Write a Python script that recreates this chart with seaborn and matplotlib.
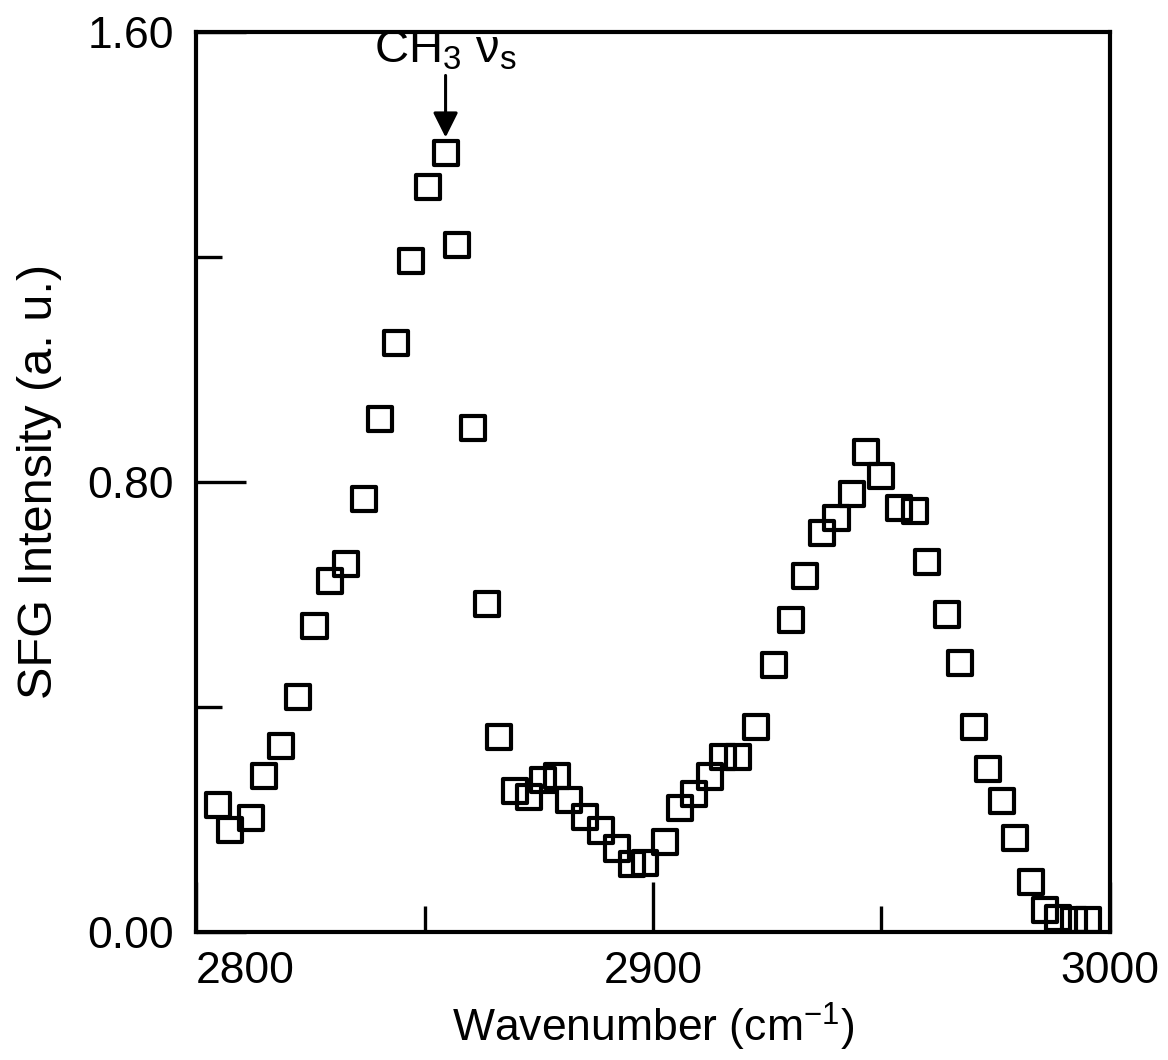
import numpy as np
import pandas as pd
import seaborn as sns
import matplotlib.pyplot as plt
from matplotlib.ticker import FixedLocator

# data
wavenumber = [2804.8, 2807.4, 2812.0, 2814.8, 2818.5, 2822.2, 2825.9, 2829.3, 2832.8, 2836.7,
              2840.2, 2843.7, 2847.0, 2850.7, 2854.6, 2857.0, 2860.7, 2863.7, 2866.3, 2869.8,
              2872.8, 2875.9, 2878.9, 2881.7, 2885.2, 2888.7, 2892.2, 2895.4, 2898.3, 2902.6,
              2905.9, 2909.1, 2912.4, 2915.4, 2918.7, 2922.6, 2926.5, 2930.2, 2933.3, 2937.0,
              2940.2, 2943.5, 2946.7, 2950.0, 2953.9, 2957.4, 2960.0, 2964.3, 2967.2, 2970.4,
              2973.3, 2976.5, 2979.3, 2982.8, 2985.9, 2988.7, 2992.2, 2995.2]
intensity = [0.226, 0.181, 0.203, 0.277, 0.331, 0.418, 0.544, 0.624, 0.654, 0.770,
             0.912, 1.047, 1.193, 1.324, 1.385, 1.221, 0.896, 0.583, 0.347, 0.251,
             0.240, 0.270, 0.277, 0.235, 0.204, 0.180, 0.148, 0.121, 0.123, 0.160,
             0.220, 0.245, 0.276, 0.311, 0.311, 0.364, 0.475, 0.555, 0.633, 0.709,
             0.736, 0.779, 0.853, 0.811, 0.754, 0.748, 0.658, 0.564, 0.478, 0.364,
             0.290, 0.233, 0.167, 0.089, 0.039, 0.025, 0.021, 0.021]

x_ticks = [2800, 2900, 3000]
x_minor = [2850, 2950]
y_ticks = [0.0, 0.8, 1.6]
y_minor = [0.4, 1.2]

df = pd.DataFrame({'w': wavenumber, 'I': intensity})

sns.set_style('ticks')
plt.rcParams['font.family'] = ['Liberation Sans', 'DejaVu Sans']
plt.rcParams['mathtext.fontset'] = 'custom'
plt.rcParams['mathtext.rm'] = 'Liberation Sans'
plt.rcParams['mathtext.it'] = 'Liberation Sans'
for k in ['text.color', 'axes.labelcolor', 'xtick.color', 'ytick.color', 'axes.edgecolor']:
    plt.rcParams[k] = 'black'

fig = plt.figure(figsize=(11.68, 10.6), dpi=100)
ax = fig.add_axes([0.168, 0.121, 0.782, 0.849])

sns.scatterplot(data=df, x='w', y='I', marker='s', s=300, facecolor='none',
                edgecolor='black', linewidth=3, ax=ax, legend=False)

ax.set_xlim(2800, 3000)
ax.set_ylim(0, 1.6)
ax.xaxis.set_major_locator(FixedLocator(x_ticks))
ax.xaxis.set_minor_locator(FixedLocator(x_minor))
ax.yaxis.set_major_locator(FixedLocator(y_ticks))
ax.yaxis.set_minor_locator(FixedLocator(y_minor))
ax.set_xticklabels([str(t) for t in x_ticks])
ax.set_yticklabels(['%.2f' % t for t in y_ticks])
ax.xaxis.get_majorticklabels()[0].set_horizontalalignment('left')

ax.tick_params(which='major', direction='in', length=36, width=2.4, labelsize=32, pad=14)
ax.tick_params(which='minor', direction='in', length=19, width=2.4)
ax.tick_params(axis='y', which='major', pad=16)
for sp in ax.spines.values():
    sp.set_linewidth(3)

ax.set_xlabel('Wavenumber (cm$^{-1}$)', fontsize=32, labelpad=6)
ax.set_ylabel('SFG Intensity (a. u.)', fontsize=35, labelpad=18)

# peak annotation
ax.annotate(r'CH$_3$ $\nu_s$', xy=(2854.6, 1.385), xytext=(0, 58), textcoords='offset points',
            ha='center', va='bottom', fontsize=34,
            arrowprops=dict(arrowstyle='-|>', color='black', lw=2.2, mutation_scale=38,
                            shrinkA=0, shrinkB=11))

fig.savefig('out.png', dpi=100)
